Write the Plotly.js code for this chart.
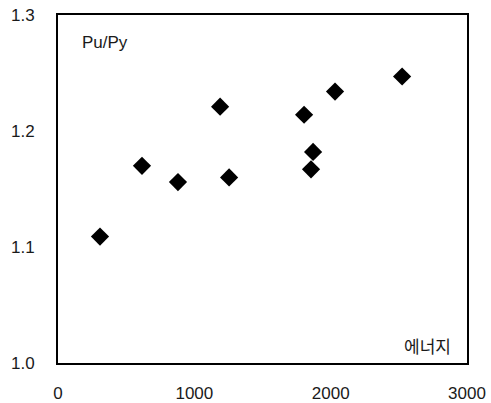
<!DOCTYPE html>
<html><head><meta charset="utf-8">
<script src="https://cdn.plot.ly/plotly-3.0.1.min.js"></script>
<style>html,body{margin:0;padding:0;background:#fff}#c{width:491px;height:403px}</style>
</head><body><div id="c"></div>
<script>
const energy = [308, 616, 880, 1189, 1255, 1805, 1871, 1856, 2032, 2524];
const ratio = [1.109, 1.170, 1.156, 1.221, 1.160, 1.214, 1.182, 1.167, 1.234, 1.247];
const xTicks = [0, 1000, 2000, 3000];
const yTicks = [1.0, 1.1, 1.2, 1.3];
const yTickText = ['1.0', '1.1', '1.2', '1.3'];
const yLabel = 'Pu/Py';
const xLabel = '에너지';

const fnt = {family: 'Liberation Sans, Arial, sans-serif', size: 17, color: '#1a1a1a'};
const kfnt = {family: 'Noto Sans CJK KR, sans-serif', size: 17, color: '#1a1a1a'};
Plotly.newPlot('c', [{
  x: energy, y: ratio, type: 'scatter', mode: 'markers',
  marker: {symbol: 'diamond', size: 14, color: '#000'}
}], {
  width: 491, height: 403,
  margin: {l: 58, r: 24, t: 15, b: 40},
  paper_bgcolor: '#fff', plot_bgcolor: '#fff',
  showlegend: false,
  font: fnt,
  xaxis: {range: [0, 3000], tickvals: xTicks, showgrid: false, zeroline: false,
    showline: true, mirror: true, linecolor: '#000', linewidth: 2, ticks: '', tickfont: fnt, ticklabelstandoff: 14},
  yaxis: {range: [1.0, 1.3], tickvals: yTicks, ticktext: yTickText, showgrid: false, zeroline: false,
    showline: true, mirror: true, linecolor: '#000', linewidth: 2, ticks: '', tickfont: fnt, ticklabelstandoff: 18},
  annotations: [
    {text: yLabel, xref: 'paper', yref: 'paper', x: 0.055, y: 0.92, xanchor: 'left', yanchor: 'middle', showarrow: false, font: fnt},
    {text: xLabel, xref: 'paper', yref: 'paper', x: 0.965, y: 0.05, xanchor: 'right', yanchor: 'middle', showarrow: false, font: kfnt}
  ]
}, {staticPlot: true});
</script></body></html>
